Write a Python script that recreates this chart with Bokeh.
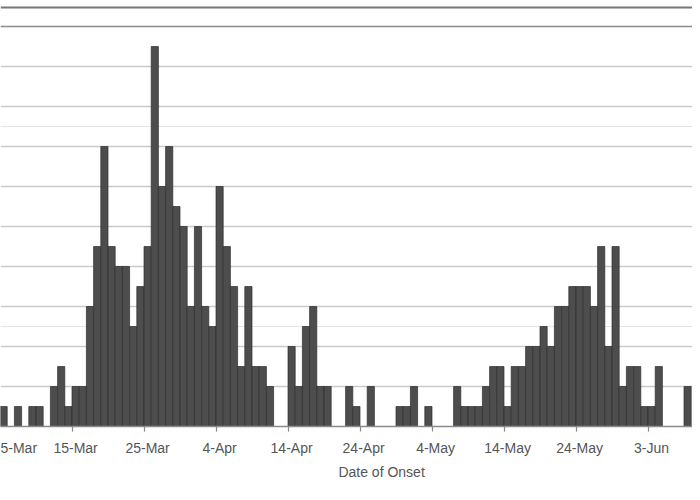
from bokeh.plotting import figure
from bokeh.models import FixedTicker, Span, Grid, Range1d, LinearAxis
from bokeh.embed import file_html
from bokeh.resources import INLINE

# Daily onset dates (5-Mar .. 8-Jun) and case counts
dates = [
    "5-Mar", "6-Mar", "7-Mar", "8-Mar", "9-Mar", "10-Mar", "11-Mar", "12-Mar", "13-Mar", "14-Mar",
    "15-Mar", "16-Mar", "17-Mar", "18-Mar", "19-Mar", "20-Mar", "21-Mar", "22-Mar", "23-Mar", "24-Mar",
    "25-Mar", "26-Mar", "27-Mar", "28-Mar", "29-Mar", "30-Mar", "31-Mar", "1-Apr", "2-Apr", "3-Apr",
    "4-Apr", "5-Apr", "6-Apr", "7-Apr", "8-Apr", "9-Apr", "10-Apr", "11-Apr", "12-Apr", "13-Apr",
    "14-Apr", "15-Apr", "16-Apr", "17-Apr", "18-Apr", "19-Apr", "20-Apr", "21-Apr", "22-Apr", "23-Apr",
    "24-Apr", "25-Apr", "26-Apr", "27-Apr", "28-Apr", "29-Apr", "30-Apr", "1-May", "2-May", "3-May",
    "4-May", "5-May", "6-May", "7-May", "8-May", "9-May", "10-May", "11-May", "12-May", "13-May",
    "14-May", "15-May", "16-May", "17-May", "18-May", "19-May", "20-May", "21-May", "22-May", "23-May",
    "24-May", "25-May", "26-May", "27-May", "28-May", "29-May", "30-May", "31-May", "1-Jun", "2-Jun",
    "3-Jun", "4-Jun", "5-Jun", "6-Jun", "7-Jun", "8-Jun",
]
counts = [
    1, 0, 1, 0, 1, 1, 0, 2, 3, 1,
    2, 2, 6, 9, 14, 9, 8, 8, 5, 7,
    9, 19, 12, 14, 11, 10, 6, 10, 6, 5,
    12, 9, 7, 3, 7, 3, 3, 2, 0, 0,
    4, 2, 5, 6, 2, 2, 0, 0, 2, 1,
    0, 2, 0, 0, 0, 1, 1, 2, 0, 1,
    0, 0, 0, 2, 1, 1, 1, 2, 3, 3,
    1, 3, 3, 4, 4, 5, 4, 6, 6, 7,
    7, 7, 6, 9, 4, 9, 2, 3, 3, 1,
    1, 3, 0, 0, 0, 2,
]
tick_labels = ["5-Mar", "15-Mar", "25-Mar", "4-Apr", "14-Apr", "24-Apr",
               "4-May", "14-May", "24-May", "3-Jun"]
grid_values = [2, 4, 6, 8, 10, 12, 14, 16, 18]
x_title = "Date of Onset"

# pixel geometry of the reference
px_per_day = 7.2
x0_px = 71.5          # left edge of the 15-Mar bar
base_px = 426         # baseline
i15 = dates.index("15-Mar")
def to_x(px):
    return (px - x0_px) / px_per_day + i15

W, H = 692, 492
p = figure(width=W, height=H, output_backend="svg", toolbar_location=None,
           x_range=Range1d(to_x(0), to_x(W)), y_range=Range1d(0, base_px / 20.0),
           min_border_left=0, min_border_right=0, min_border_top=0,
           min_border_bottom=H - base_px, y_axis_location=None)
p.outline_line_color = None
p.background_fill_color = "white"
p.border_fill_color = "white"
p.xgrid.visible = False

p.add_layout(Grid(dimension=1, ticker=FixedTicker(ticks=grid_values),
                  grid_line_color="#cacaca", grid_line_width=1.5))

xs = [i for i, c in enumerate(counts) if c > 0]
tops = [c for c in counts if c > 0]
p.quad(left=xs, right=[v + 1 for v in xs], bottom=0, top=tops,
       fill_color="#4d4d4d", line_color="#2e2e2e", line_width=0.7)

ax = p.xaxis[0]
tick_pos = [dates.index(t) for t in tick_labels]
ax.ticker = FixedTicker(ticks=[t + 0.5 for t in tick_pos], minor_ticks=tick_pos)
ax.major_label_overrides = {t + 0.5: lab for t, lab in zip(tick_pos, tick_labels)}
ax.major_tick_out = 0
ax.major_tick_in = 0
ax.minor_tick_out = 5
ax.minor_tick_in = 0
ax.minor_tick_line_color = "#888888"
ax.minor_tick_line_width = 1.2
ax.axis_line_color = "#8a8a8a"
ax.axis_line_width = 1.5
ax.major_label_standoff = 8
ax.major_label_text_font = "Liberation Sans"
ax.major_label_text_font_size = "14px"
ax.major_label_text_color = "#555555"

# x-axis title, placed as a tick label of a second (line-less) axis
title_pos = 53.0
ax2 = LinearAxis(ticker=FixedTicker(ticks=[title_pos], minor_ticks=[]),
                 major_label_overrides={title_pos: x_title},
                 axis_line_color=None, major_tick_line_color=None,
                 minor_tick_line_color=None, major_tick_out=0, major_tick_in=0,
                 major_label_standoff=5,
                 major_label_text_font="Liberation Sans",
                 major_label_text_font_size="14px",
                 major_label_text_color="#555555")
p.add_layout(ax2, "below")

p.add_layout(Span(location=20, dimension="width", line_color="#8a8a8a", line_width=1.5))
p.add_layout(Span(location=(base_px - 7) / 20.0, dimension="width",
                  line_color="#777777", line_width=2))

open("out.html", "w").write(file_html(p, INLINE))
